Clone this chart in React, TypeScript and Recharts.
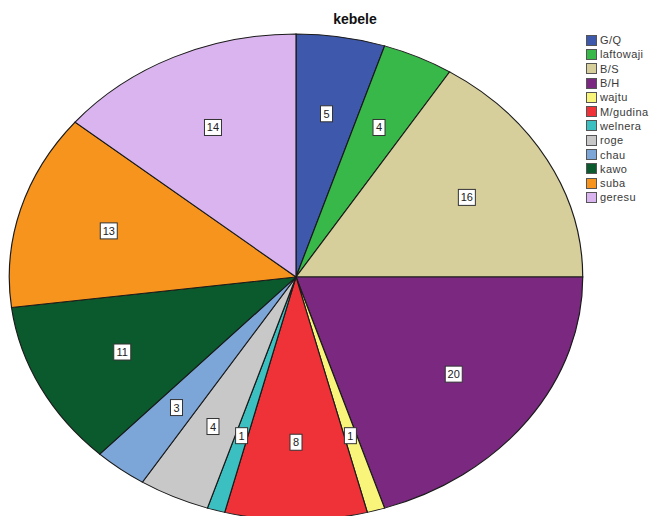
import React from "react";
import { PieChart, Pie, Cell } from "recharts";

const categories = ["G/Q", "laftowaji", "B/S", "B/H", "wajtu", "M/gudina", "welnera", "roge", "chau", "kawo", "suba", "geresu"];
const legendLabels = ["G/Q", "laftowaji", "B/S", "B/H", "wajtu", "M/gudina", "welnera", "roge", "chau", "kawo", "suba", "geresu"];
const values = [5, 4, 16, 20, 1, 8, 1, 4, 3, 11, 13, 14];
const colors = ["#3E58AC", "#38B849", "#D6CF9C", "#7A2880", "#F8F57A", "#EE3238", "#3CBFC0", "#C8C8C8", "#7CA6D8", "#0A5A2E", "#F7941E", "#DAB4EE"];
const title = "kebele";

const data = categories.map((name, i) => ({ name, value: values[i] }));

const SX = 1.18;
const RAD = Math.PI / 180;

const renderLabel = (props: any) => {
  const { cx, cy, midAngle, outerRadius, value } = props;
  const r = outerRadius * 0.68;
  const x = cx + r * Math.cos(-midAngle * RAD);
  const y = cy + r * Math.sin(-midAngle * RAD);
  const w = String(value).length > 1 ? 17 : 12;
  return (
    <g transform={`translate(${x},${y}) scale(${1 / SX},1)`}>
      <rect x={-w / 2} y={-8} width={w} height={16} fill="#ffffff" stroke="#333" strokeWidth={1} />
      <text x={0} y={4} textAnchor="middle" fontSize={11} fontFamily="Liberation Sans, Arial, sans-serif" fill="#222">
        {value}
      </text>
    </g>
  );
};

export default function App() {
  return (
    <div style={{ position: "absolute", left: 0, top: 0, width: 654, height: 516, overflow: "hidden", background: "#fff" }}>
      <div style={{ position: "absolute", left: 1, top: 0, transform: `scaleX(${SX})`, transformOrigin: "0 0" }}>
        <PieChart width={500} height={540} margin={{ top: 0, right: 0, bottom: 0, left: 0 }}>
          <Pie
            data={data}
            dataKey="value"
            nameKey="name"
            cx={250}
            cy={277}
            outerRadius={243}
            startAngle={90}
            endAngle={-270}
            stroke="#1a1a1a"
            strokeWidth={1}
            label={renderLabel}
            labelLine={false}
            isAnimationActive={false}
          >
            {data.map((d, i) => (
              <Cell key={d.name} fill={colors[i]} />
            ))}
          </Pie>
        </PieChart>
      </div>
      <div
        style={{
          position: "absolute",
          left: 320,
          top: 11,
          width: 70,
          textAlign: "center",
          fontFamily: "Liberation Sans, Arial, sans-serif",
          fontWeight: "bold",
          fontSize: 14,
          color: "#111",
        }}
      >
        {title}
      </div>
      <div style={{ position: "absolute", left: 586, top: 33 }}>
        {legendLabels.map((l, i) => (
          <div key={l} style={{ display: "flex", alignItems: "center", height: 14.3 }}>
            <div style={{ width: 11, height: 11, background: colors[i], border: "1px solid #555", boxSizing: "border-box", marginRight: 3 }} />
            <span style={{ fontFamily: "Liberation Sans, Arial, sans-serif", fontSize: 11, letterSpacing: 0.4, color: "#3a3a3a", whiteSpace: "nowrap" }}>{l}</span>
          </div>
        ))}
      </div>
    </div>
  );
}
